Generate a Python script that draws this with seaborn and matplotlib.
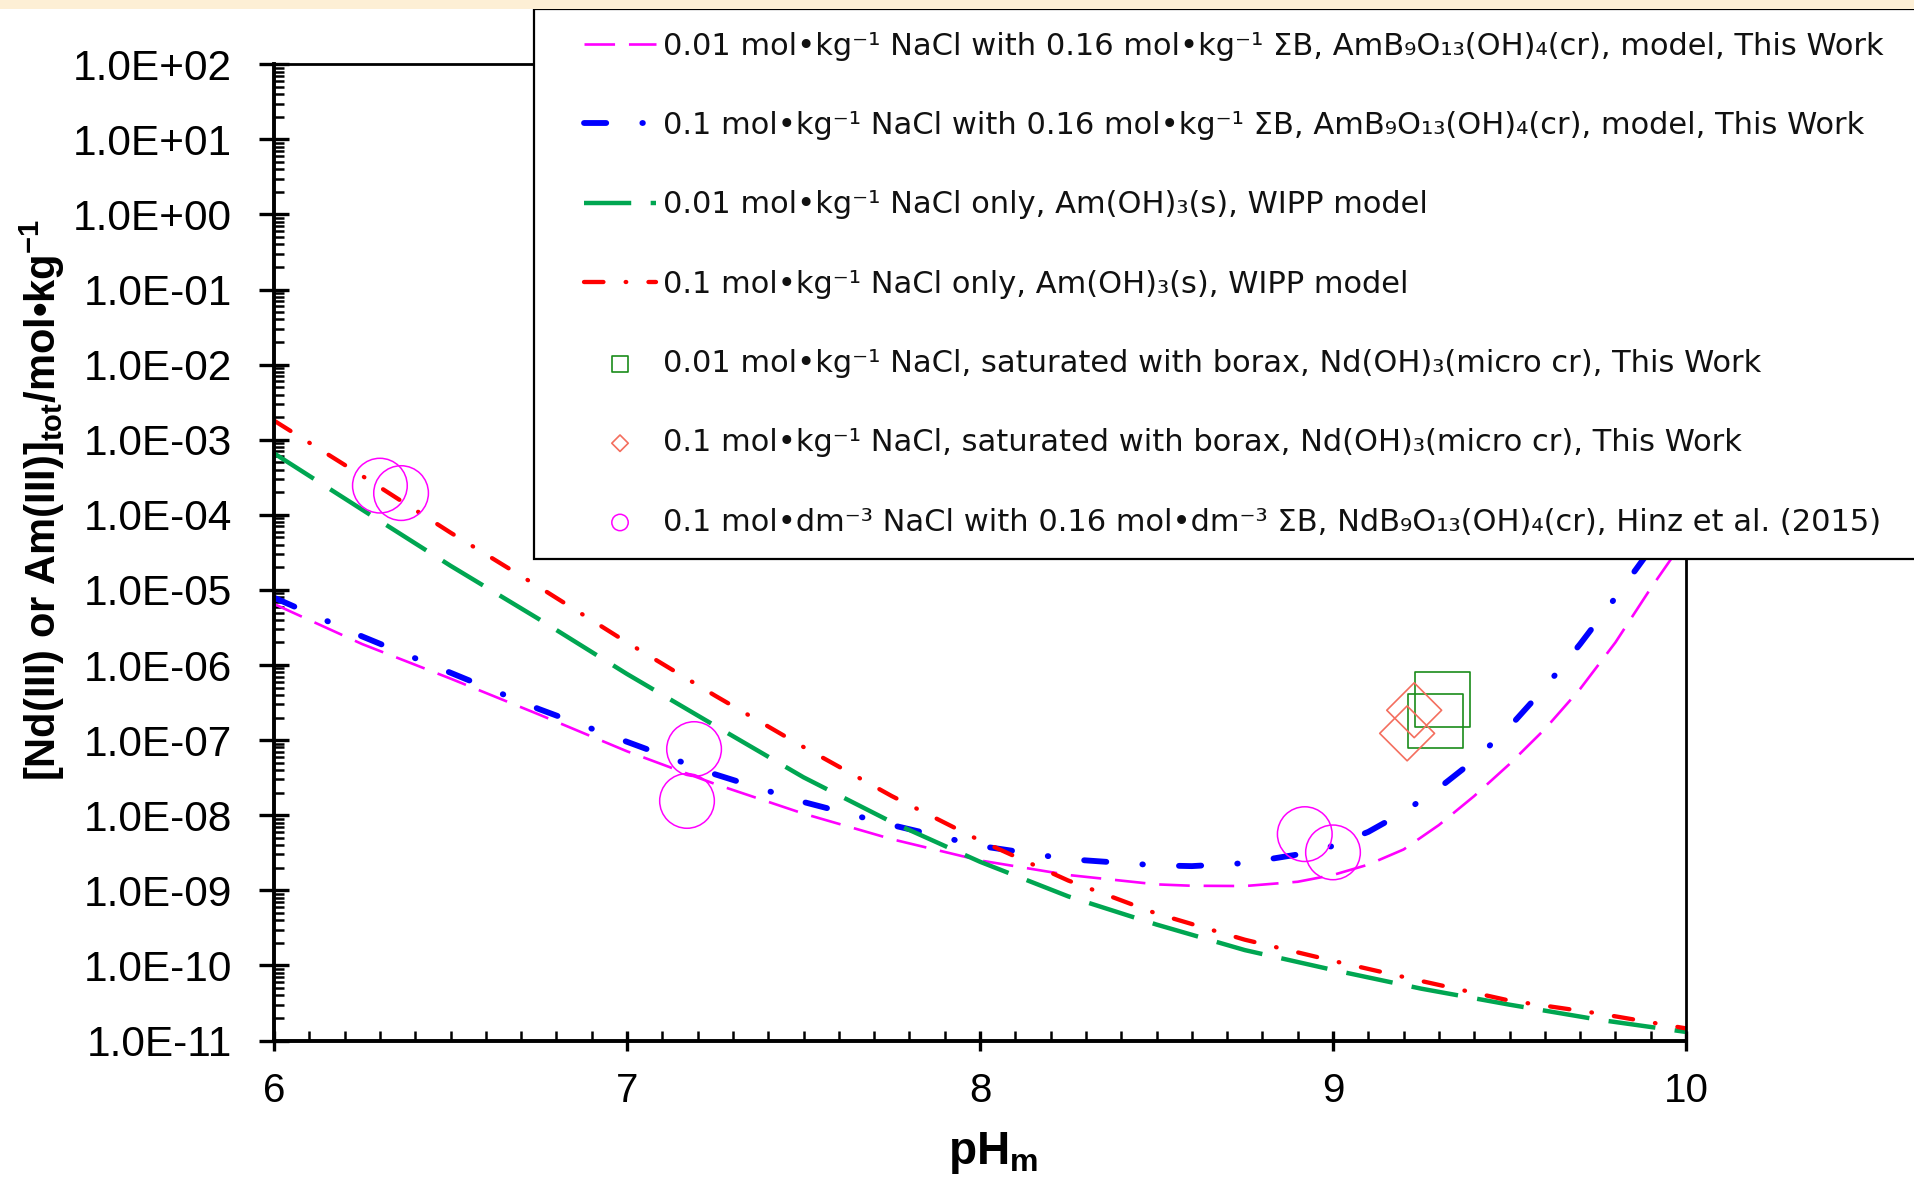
import matplotlib
matplotlib.use("Agg")
import matplotlib.pyplot as plt
import seaborn as sns
from matplotlib.ticker import FixedLocator, FuncFormatter, LogLocator, MultipleLocator, NullFormatter
from matplotlib.legend_handler import HandlerLine2D, HandlerPathCollection
from matplotlib.lines import Line2D
from matplotlib.collections import PathCollection
from matplotlib.patches import Rectangle
from matplotlib.font_manager import FontProperties

sns.set_theme(style="white")
plt.rcParams["font.family"] = ["Liberation Sans", "DejaVu Sans"]
plt.rcParams["mathtext.fontset"] = "custom"
plt.rcParams["mathtext.rm"] = "Liberation Sans"
plt.rcParams["mathtext.bf"] = "Liberation Sans:bold"
plt.rcParams["lines.scale_dashes"] = False

# ---- model curves (pH_m grid, total dissolved concentration in mol/kg) ----
ph_b = [6.0, 6.25, 6.5, 6.75, 7.0, 7.25, 7.5, 7.75, 8.0, 8.25, 8.5, 8.6, 8.75,
        8.9, 9.0, 9.1, 9.2, 9.3, 9.4, 9.5, 9.6, 9.7, 9.8, 9.9, 10.0]
conc_001_borate = [6.5e-6, 1.9e-6, 6.6e-7, 2.2e-7, 7.1e-8, 2.6e-8, 1.05e-8, 4.8e-9,
                   2.5e-9, 1.6e-9, 1.2e-9, 1.15e-9, 1.14e-9, 1.3e-9, 1.6e-9, 2.2e-9,
                   3.5e-9, 7.4e-9, 1.8e-8, 4.8e-8, 1.4e-7, 4.8e-7, 2.0e-6, 1.05e-5, 5.0e-5]
conc_01_borate = [7.9e-6, 2.4e-6, 7.9e-7, 2.6e-7, 9.5e-8, 3.5e-8, 1.5e-8, 7.4e-9,
                  3.9e-9, 2.6e-9, 2.15e-9, 2.1e-9, 2.3e-9, 3.0e-9, 3.9e-9, 6.0e-9,
                  1.1e-8, 2.3e-8, 5.4e-8, 1.5e-7, 5.0e-7, 1.9e-6, 7.9e-6, 3.5e-5, 1.6e-4]

ph_w = [6.0, 6.25, 6.5, 6.75, 7.0, 7.25, 7.5, 7.75, 8.0, 8.25, 8.5, 8.75,
        9.0, 9.25, 9.5, 9.75, 10.0]
conc_001_wipp = [6.6e-4, 1.17e-4, 2.1e-5, 4.1e-6, 7.6e-7, 1.55e-7, 3.2e-8, 8.1e-9,
                 2.4e-9, 8.3e-10, 3.5e-10, 1.6e-10, 8.7e-11, 4.9e-11, 3.0e-11, 1.9e-11, 1.3e-11]
conc_01_wipp = [1.8e-3, 3.3e-4, 5.8e-5, 1.1e-5, 2.0e-6, 3.9e-7, 8.1e-8, 1.8e-8,
                4.6e-9, 1.35e-9, 4.9e-10, 2.2e-10, 1.15e-10, 6.2e-11, 3.4e-11, 2.3e-11, 1.45e-11]

# ---- experimental data ----
ph_sq = [9.31, 9.29]
conc_sq = [3.5e-7, 1.8e-7]
ph_dm = [9.23, 9.21]
conc_dm = [2.5e-7, 1.23e-7]
ph_hinz = [6.30, 6.36, 7.19, 7.17, 8.92, 9.00]
conc_hinz = [2.45e-4, 1.95e-4, 7.6e-8, 1.55e-8, 5.6e-9, 3.2e-9]

labels = [
    "0.01 mol\u2022kg\u207b\u00b9 NaCl with 0.16 mol\u2022kg\u207b\u00b9 \u03a3B, AmB\u2089O\u2081\u2083(OH)\u2084(cr), model, This Work",
    "0.1 mol\u2022kg\u207b\u00b9 NaCl with 0.16 mol\u2022kg\u207b\u00b9 \u03a3B, AmB\u2089O\u2081\u2083(OH)\u2084(cr), model, This Work",
    "0.01 mol\u2022kg\u207b\u00b9 NaCl only, Am(OH)\u2083(s), WIPP model",
    "0.1 mol\u2022kg\u207b\u00b9 NaCl only, Am(OH)\u2083(s), WIPP model",
    "0.01 mol\u2022kg\u207b\u00b9 NaCl, saturated with borax, Nd(OH)\u2083(micro cr), This Work",
    "0.1 mol\u2022kg\u207b\u00b9 NaCl, saturated with borax, Nd(OH)\u2083(micro cr), This Work",
    "0.1 mol\u2022dm\u207b\u00b3 NaCl with 0.16 mol\u2022dm\u207b\u00b3 \u03a3B, NdB\u2089O\u2081\u2083(OH)\u2084(cr), Hinz et al. (2015)",
]

W, H = 1915, 1184
fig = plt.figure(figsize=(W / 100, H / 100), dpi=100)
fig.patch.set_facecolor("white")
fig.patches.append(Rectangle((0, 1 - 9 / H), 1, 9 / H, transform=fig.transFigure,
                             facecolor="#FDEFD5", edgecolor="none", zorder=0))

x0, x1, y0, y1 = 274, 1686, 64.3, 1040.5
ax = fig.add_axes([x0 / W, 1 - y1 / H, (x1 - x0) / W, (y1 - y0) / H])
ax.set_facecolor("white")

sns.lineplot(x=ph_b, y=conc_001_borate, ax=ax, color="#FF00FF", lw=1.9,
             linestyle=(0, (22, 10)), label=labels[0], errorbar=None)
sns.lineplot(x=ph_b, y=conc_01_borate, ax=ax, color="#0000FF", lw=4.2,
             linestyle=(0, (16, 26, 0.4, 26)), dash_capstyle="round",
             label=labels[1], errorbar=None)
sns.lineplot(x=ph_w, y=conc_001_wipp, ax=ax, color="#00A651", lw=3.2,
             linestyle=(0, (34, 14)), label=labels[2], errorbar=None)
sns.lineplot(x=ph_w, y=conc_01_wipp, ax=ax, color="#FF0000", lw=3.1,
             linestyle=(0, (14, 16, 0.4, 16)), dash_capstyle="round",
             label=labels[3], errorbar=None)

sns.scatterplot(x=ph_sq, y=conc_sq, ax=ax, marker="s", s=1550, color="#1A8C1A",
                facecolor="none", edgecolor="#1A8C1A", linewidth=1.2, label=labels[4], zorder=4)
sns.scatterplot(x=ph_dm, y=conc_dm, ax=ax, marker="D", s=780, color="#F46E5E",
                facecolor="none", edgecolor="#F46E5E", linewidth=1.2, label=labels[5], zorder=4)
sns.scatterplot(x=ph_hinz, y=conc_hinz, ax=ax, marker="o", s=1550, color="#FF00FF",
                facecolor="none", edgecolor="#FF00FF", linewidth=1.1, label=labels[6], zorder=4)

ax.set_yscale("log")
ax.set_xlim(6, 10)
ax.set_ylim(1e-11, 1e2)

ax.yaxis.set_major_locator(FixedLocator([10.0 ** k for k in range(-11, 3)]))
ax.yaxis.set_major_formatter(FuncFormatter(lambda v, _: f"{v:.1E}"))
ax.yaxis.set_minor_locator(LogLocator(base=10, subs=range(2, 10), numticks=200))
ax.yaxis.set_minor_formatter(NullFormatter())
ax.xaxis.set_major_locator(FixedLocator([6, 7, 8, 9, 10]))
ax.xaxis.set_major_formatter(FuncFormatter(lambda v, _: f"{v:g}"))
ax.xaxis.set_minor_locator(MultipleLocator(0.1))

ax.tick_params(axis="both", which="major", direction="inout", colors="black",
               width=2.4, labelcolor="black")
ax.tick_params(axis="y", which="major", length=21, pad=20, labelsize=30.5)
ax.tick_params(axis="x", which="major", length=15, pad=15, labelsize=29)
ax.tick_params(axis="both", which="minor", direction="in", width=1.8, length=7.5, color="black")
ax.tick_params(left=True, bottom=True, top=False, right=False, which="both")

for side, sp in ax.spines.items():
    sp.set_color("black")
    sp.set_linewidth(2.8 if side in ("left", "bottom") else 2.0)

ax.set_ylabel(r"[Nd(III) or Am(III)]$_{\mathbf{tot}}$/mol•kg$^{\mathbf{-1}}$",
              fontsize=30, fontweight="bold", color="black")
ax.yaxis.set_label_coords((67 - x0) / (x1 - x0), (y1 - 500) / (y1 - y0))
ax.set_xlabel(r"pH$_{\mathbf{m}}$", fontsize=33, fontweight="bold", color="black")
ax.xaxis.set_label_coords((993 - x0) / (x1 - x0), (y1 - 1130) / (y1 - y0))

handles, labs = ax.get_legend_handles_labels()
fs = 22
pad_em = 0.88
leg = ax.legend(
    handles, labs, loc="upper left",
    bbox_to_anchor=(534 / W, 1 - 9 / H, (1960 - 534) / W, 0.0),
    bbox_transform=fig.transFigure, mode="expand", borderaxespad=0,
    prop=FontProperties(family=["DejaVu Sans"], size=fs),
    labelspacing=1.645, borderpad=0.75, handlelength=3.25, handletextpad=0.22,
    markerscale=0.3, scatterpoints=1, numpoints=1,
    frameon=True, fancybox=False, framealpha=1, edgecolor="black", facecolor="white",
    handler_map={Line2D: HandlerLine2D(xpad=pad_em),
                 PathCollection: HandlerPathCollection(xpad=pad_em)},
)
leg.get_frame().set_linewidth(1.6)
for t in leg.get_texts():
    t.set_color("#111111")

fig.savefig("out.png", dpi=100, facecolor=fig.get_facecolor())
